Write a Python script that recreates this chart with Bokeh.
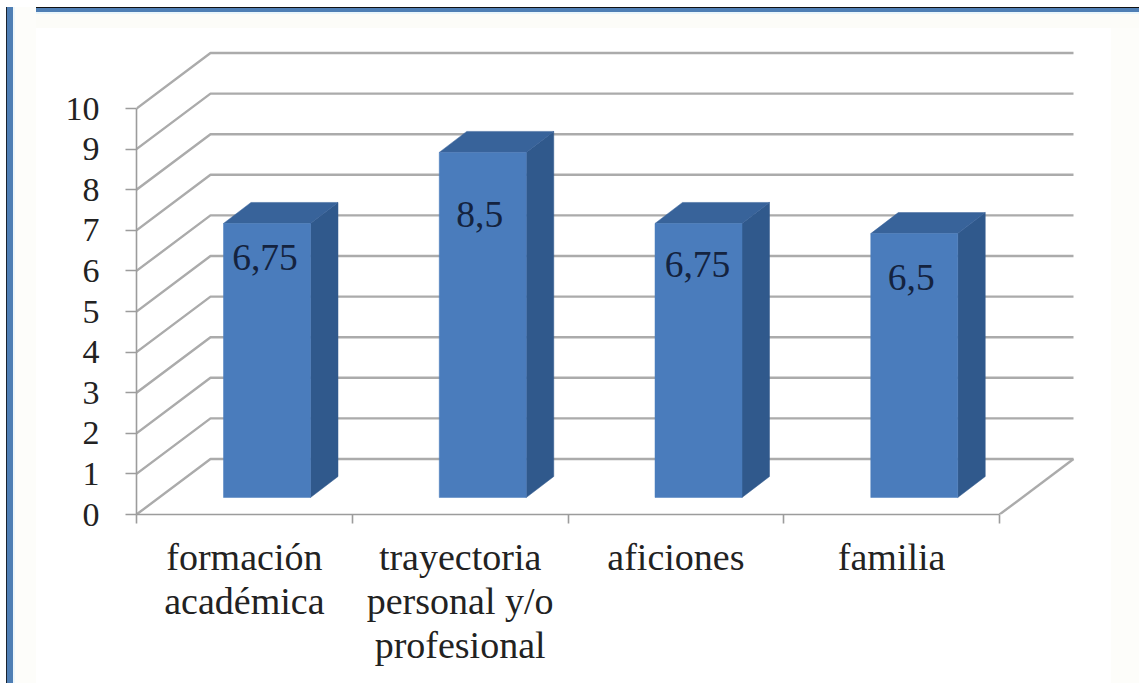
from bokeh.plotting import figure
from bokeh.embed import file_html
from bokeh.resources import INLINE
from bokeh.models import Range1d, LinearAxis, FixedTicker
from bokeh.core.properties import value

categories = ["formación\nacadémica", "trayectoria\npersonal y/o\nprofesional", "aficiones", "familia"]
values = [6.75, 8.5, 6.75, 6.5]
labels = ["6,75", "8,5", "6,75", "6,5"]
y_ticks = [0, 1, 2, 3, 4, 5, 6, 7, 8, 9, 10]

# Layout (pixel mapping of the pseudo-3D box)
W, H = 1139, 683
FL, FB = 136, 514            # frame left / bottom inside the figure
PX = 215.75                  # px per category
PY = 40.6                    # px per value unit
XMAX = (W - FL) / PX
YMAX = FB / PY
DX, DY = 74 / PX, 55.5 / PY  # depth of the box
BAR_L, BAR_W = 87 / PX, 87 / PX
BAR_B = 17 / PY
BDX, BDY = 27.5 / PX, 21 / PY
LABEL_DROP = [34 / PY, 62 / PY, 41 / PY, 44 / PY]
LABEL_SHIFT = [-2 / PX, -3 / PX, -1 / PX, -3 / PX]

p = figure(width=W, height=H, output_backend="svg", toolbar_location=None,
           x_range=Range1d(0, XMAX), y_range=Range1d(0, YMAX),
           x_axis_type=None, y_axis_type=None,
           min_border_left=FL, min_border_bottom=H - FB, min_border_top=0, min_border_right=0)
p.grid.visible = False
p.outline_line_color = None
p.background_fill_color = None
p.border_fill_color = None
# Picture frame of the pasted image: painted behind the transparent plot
p.styles = {
    "background-color": "#ffffff",
    "background-repeat": "no-repeat",
    "background-image": ", ".join([
        "linear-gradient(to right, #ffffff 0 6px, #1a2430 6px 7px, #4f7fb5 7px 13px, #eef7fb 13px 15px, #fdfdfa 15px 36px, rgba(255,255,255,0) 36px)",
        "linear-gradient(to bottom, #ffffff 0 7px, #111111 7px 8px, #4f7fb5 8px 12px, #eaf6fb 12px 14px, #fcfcf8 14px 28px, rgba(255,255,255,0) 28px)",
        "linear-gradient(to left, #fdfdfa 0 28px, rgba(255,255,255,0) 28px)",
    ]),
    "background-position": "0 7px, 0 0, 0 0",
}

GRID = "#ababab"
AXC = "#9c9c9c"
n = len(categories)

# Wall and floor lines
xs, ys = [], []
for v in y_ticks:
    xs.append([0, DX, n + DX])
    ys.append([v, v + DY, v + DY])
xs.append([n, n + DX])
ys.append([0, DY])
p.multi_line(xs, ys, line_color=GRID, line_width=2.4)

# Axes
ya = LinearAxis(ticker=FixedTicker(ticks=y_ticks), bounds=(0, 10))
ya.axis_line_color = AXC
ya.axis_line_width = 1.6
ya.major_tick_line_color = AXC
ya.major_tick_line_width = 1.6
ya.major_tick_out = 11
ya.major_tick_in = 0
ya.minor_tick_line_color = None
ya.major_label_text_font = "Liberation Serif"
ya.major_label_text_font_size = "34px"
ya.major_label_text_color = "#222222"
ya.major_label_standoff = 26
p.add_layout(ya, "left")

centers = [i + 0.5 for i in range(n)]
xa = LinearAxis(ticker=FixedTicker(ticks=centers, minor_ticks=list(range(n + 1))), bounds=(0, n))
xa.major_label_overrides = {c: t for c, t in zip(centers, categories)}
xa.axis_line_color = AXC
xa.axis_line_width = 1.6
xa.major_tick_line_color = None
xa.major_tick_out = 0
xa.major_tick_in = 0
xa.minor_tick_line_color = AXC
xa.minor_tick_line_width = 1.6
xa.minor_tick_out = 9
xa.minor_tick_in = 0
xa.major_label_text_font = "Liberation Serif"
xa.major_label_text_font_size = "38px"
xa.major_label_text_color = "#222222"
xa.major_label_text_line_height = 1.05
xa.major_label_standoff = 12
p.add_layout(xa, "below")

# Bars
lefts = [i + BAR_L for i in range(n)]
rights = [l + BAR_W for l in lefts]
tops = [BAR_B + v for v in values]
p.patches([[r, r + BDX, r + BDX, r] for r in rights],
          [[BAR_B, BAR_B + BDY, t + BDY, t] for t in tops],
          fill_color="#30598c", line_color="#30598c", line_width=0.5)
p.patches([[l, l + BDX, r + BDX, r] for l, r in zip(lefts, rights)],
          [[t, t + BDY, t + BDY, t] for t in tops],
          fill_color="#38639a", line_color="#38639a", line_width=0.5)
p.quad(left=lefts, right=rights, bottom=BAR_B, top=tops,
       fill_color="#4a7cbc", line_color="#4a7cbc", line_width=0.5)

# Value labels
p.text([(l + r) / 2 + s for l, r, s in zip(lefts, rights, LABEL_SHIFT)],
       [t - d for t, d in zip(tops, LABEL_DROP)],
       text=labels, text_font=value("Liberation Serif"), text_font_size="37.5px",
       text_color="#14233f", text_align="center", text_baseline="middle")

open("out.html", "w").write(file_html(p, INLINE))
